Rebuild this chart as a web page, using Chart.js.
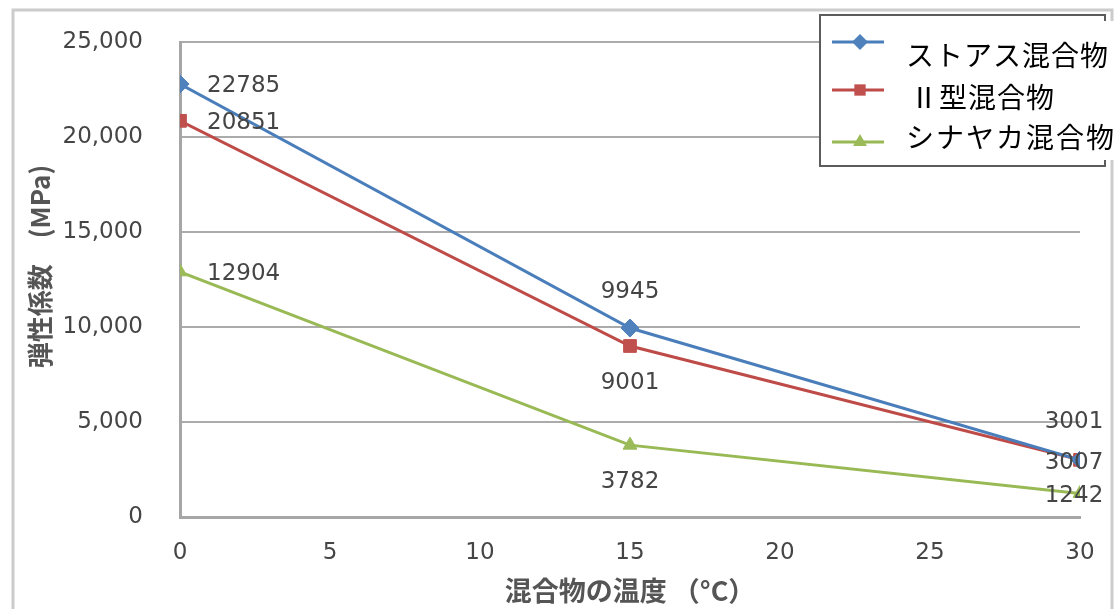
<!DOCTYPE html>
<html lang="ja">
<head>
<meta charset="utf-8">
<title>混合物の温度と弾性係数</title>
<script src="https://cdn.jsdelivr.net/npm/chart.js@4.4.1/dist/chart.umd.min.js"></script>
<style>
  html, body { margin: 0; padding: 0; background: #ffffff; }
  #wrap { width: 1120px; height: 609px; position: relative; }
</style>
</head>
<body>
<div id="wrap"><canvas id="chart" width="1120" height="609"></canvas></div>
<script>
// Mixture temperature (°C) on the x axis
const temperatures = [0, 15, 30];

// Elastic modulus (MPa) per mixture
const seriesNames = ['ストアス混合物', 'Ⅱ型混合物', 'シナヤカ混合物'];
const straightAsphalt = [22785, 9945, 3001];
const typeTwo = [20851, 9001, 3007];
const shinayaka = [12904, 3782, 1242];

// Axis ticks
const xTicks = [0, 5, 10, 15, 20, 25, 30];
const yTicks = [0, 5000, 10000, 15000, 20000, 25000];

const axisTitleX = '混合物の温度 （°C）';
const axisTitleY = '　弾性係数　(MPa)';

// Series styling
const colors = ['#4a7ebb', '#be4b48', '#98b954'];
const markerColors = ['#4f81bd', '#c0504d', '#9bbb59'];
const markerStyles = ['rectRot', 'rect', 'triangle'];
const markerRadius = [9, 9, 8];

// Where each point's value label sits relative to its marker
const labelPlacement = [
  ['right', 'above', 'aboveLeft'],
  ['right', 'below', 'center'],
  ['right', 'below', 'center']
];

const seriesValues = [straightAsphalt, typeTwo, shinayaka];

const datasets = seriesValues.map((vals, i) => ({
  label: seriesNames[i],
  data: temperatures.map((t, j) => ({ x: t, y: vals[j] })),
  borderColor: colors[i],
  backgroundColor: markerColors[i],
  borderWidth: 3,
  pointStyle: markerStyles[i],
  pointRadius: markerRadius[i],
  pointBackgroundColor: markerColors[i],
  pointBorderColor: markerColors[i],
  pointBorderWidth: 1,
  tension: 0,
  fill: false
}));

const numberFont = '"DejaVu Sans", sans-serif';
const cjkFont = '"Noto Sans CJK JP", "Noto Sans", sans-serif';
const textColor = '#454545';

// Page background and outer frame
const framePlugin = {
  id: 'frame',
  beforeDraw(chart) {
    const ctx = chart.ctx;
    ctx.save();
    ctx.fillStyle = '#ffffff';
    ctx.fillRect(0, 0, chart.width, chart.height);
    ctx.strokeStyle = '#cccccc';
    ctx.lineWidth = 3;
    ctx.beginPath();
    ctx.moveTo(13, chart.height + 5);
    ctx.lineTo(13, 10);
    ctx.lineTo(1112, 10);
    ctx.lineTo(1112, chart.height + 5);
    ctx.stroke();
    ctx.restore();
  }
};

// Value labels next to each point
const valueLabelPlugin = {
  id: 'valueLabels',
  afterDatasetsDraw(chart) {
    const ctx = chart.ctx;
    ctx.save();
    ctx.font = '23px ' + numberFont;
    ctx.fillStyle = textColor;
    ctx.textBaseline = 'middle';
    chart.data.datasets.forEach((ds, i) => {
      const meta = chart.getDatasetMeta(i);
      meta.data.forEach((pt, j) => {
        const text = String(seriesValues[i][j]);
        const where = labelPlacement[i][j];
        let x = pt.x, y = pt.y;
        if (where === 'right') { ctx.textAlign = 'left'; x += 27; y += 2; }
        else if (where === 'above') { ctx.textAlign = 'center'; y -= 36; }
        else if (where === 'aboveLeft') { ctx.textAlign = 'center'; x -= 6; y -= 38; }
        else if (where === 'below') { ctx.textAlign = 'center'; y += 37; }
        else { ctx.textAlign = 'center'; x -= 6; y += 3; }
        ctx.fillText(text, x, y);
      });
    });
    ctx.restore();
  }
};

function drawMarker(ctx, style, x, y, r, color) {
  ctx.fillStyle = color;
  ctx.beginPath();
  if (style === 'rectRot') {
    ctx.moveTo(x, y - r); ctx.lineTo(x + r, y); ctx.lineTo(x, y + r); ctx.lineTo(x - r, y);
  } else if (style === 'rect') {
    const s = r * Math.SQRT1_2;
    ctx.rect(x - s, y - s, 2 * s, 2 * s);
  } else {
    ctx.moveTo(x, y - r); ctx.lineTo(x + r * 0.87, y + r * 0.5); ctx.lineTo(x - r * 0.87, y + r * 0.5);
  }
  ctx.closePath();
  ctx.fill();
}

// Legend box in the upper right corner
const legendPlugin = {
  id: 'cornerLegend',
  afterDraw(chart) {
    const ctx = chart.ctx;
    const box = { x: 820, y: 15, w: 285, h: 151 };
    const symbolY = [42, 90, 142];
    const textY = [55, 97, 137];
    const spacing = ['1px', '1px', '2px'];
    ctx.save();
    ctx.fillStyle = '#ffffff';
    ctx.fillRect(box.x, box.y, box.w, box.h);
    ctx.strokeStyle = '#5c5c5c';
    ctx.lineWidth = 2;
    ctx.strokeRect(box.x, box.y, box.w, box.h);
    chart.data.datasets.forEach((ds, i) => {
      ctx.strokeStyle = colors[i];
      ctx.lineWidth = 3;
      ctx.beginPath();
      ctx.moveTo(832, symbolY[i]);
      ctx.lineTo(884, symbolY[i]);
      ctx.stroke();
      drawMarker(ctx, markerStyles[i], 860, symbolY[i], 8, markerColors[i]);
    });
    ctx.fillStyle = '#ffffff';
    ctx.fillRect(885, 21, 235, 139);
    ctx.fillStyle = '#000000';
    ctx.font = '28px ' + cjkFont;
    ctx.textAlign = 'left';
    ctx.textBaseline = 'middle';
    chart.data.datasets.forEach((ds, i) => {
      ctx.letterSpacing = spacing[i];
      ctx.fillText(ds.label, i === 1 ? 910 : 906, textY[i]);
    });
    ctx.restore();
  }
};

new Chart(document.getElementById('chart'), {
  type: 'line',
  data: { datasets },
  options: {
    responsive: false,
    animation: false,
    devicePixelRatio: 1,
    layout: { padding: { left: 0, top: 42, right: 40, bottom: 0 } },
    plugins: {
      legend: { display: false },
      tooltip: { enabled: false }
    },
    scales: {
      x: {
        type: 'linear',
        min: 0,
        max: 30,
        afterBuildTicks(scale) { scale.ticks = xTicks.map(v => ({ value: v })); },
        afterFit(scale) { scale.height = 92; scale.paddingLeft = 0; scale.paddingRight = 0; },
        grid: { display: false, drawTicks: false },
        border: { display: true, color: '#a6a6a6', width: 3 },
        ticks: {
          padding: 22,
          color: textColor,
          font: { family: numberFont, size: 23 },
          maxRotation: 0
        },
        title: {
          display: true,
          text: axisTitleX,
          color: '#555555',
          font: { family: cjkFont, size: 27, weight: 'bold' },
          padding: { top: 0, bottom: 2 }
        }
      },
      y: {
        type: 'linear',
        min: 0,
        max: 25000,
        afterBuildTicks(scale) { scale.ticks = yTicks.map(v => ({ value: v })); },
        afterFit(scale) { scale.width = 180; scale.paddingTop = 0; scale.paddingBottom = 0; },
        grid: { color: '#ababab', lineWidth: 2, drawTicks: false },
        border: { display: true, color: '#a6a6a6', width: 3 },
        ticks: {
          padding: 37,
          color: textColor,
          font: { family: numberFont, size: 23 },
          callback: v => v.toLocaleString('en-US')
        },
        title: {
          display: true,
          text: axisTitleY,
          color: '#555555',
          font: { family: cjkFont, size: 26, weight: 'bold' },
          padding: { top: 25, bottom: 0 }
        }
      }
    }
  },
  plugins: [framePlugin, valueLabelPlugin, legendPlugin]
});
</script>
</body>
</html>
